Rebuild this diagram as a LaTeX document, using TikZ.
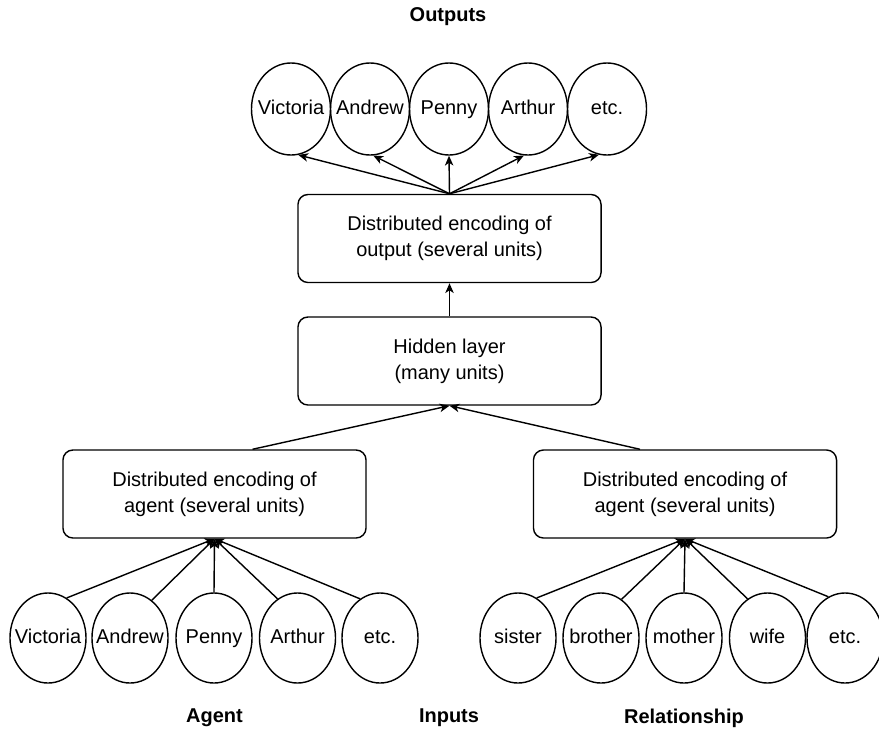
\documentclass[tikz,border=0pt]{standalone}
\usepackage{fontspec}
\setmainfont{Liberation Sans}
\usetikzlibrary{shapes.geometric,arrows.meta}

\begin{document}
\begin{tikzpicture}
    [x = .025cm, y = -.025cm, line width = 1pt,
     every node/.style = {font = \fontsize{14.2}{18.5}\selectfont, align = center},
     unit/.style = {ellipse, draw, inner xsep = -.2cm, inner ysep = 0pt,
                    text height = 10.5pt, text depth = 3pt,
                    minimum width = 1.9cm, minimum height = 2.25cm},
     outunit/.style = {unit, minimum width = 1.975cm, minimum height = 2.3cm},
     layer/.style = {draw, rounded corners = .25cm, minimum width = 7.575cm, minimum height = 2.2cm},
     title/.style = {font = \fontsize{14.2}{17}\selectfont\bfseries},
     arr/.style = {-{Stealth[length = 7pt, width = 6pt, inset = 2pt]}}]
    \useasboundingbox (0,0) rectangle (879,729);

    % outputs
    \node[title] (outputs) at (448,17) {Outputs};
    \node[outunit] (o1) at (291,109) {Victoria};
    \node[outunit] (o2) at (370,109) {Andrew};
    \node[outunit] (o3) at (449,109) {Penny};
    \node[outunit] (o4) at (528,109) {Arthur};
    \node[outunit] (o5) at (607,109) {etc.};

    \node[layer] (enc) at (449.5,238.5) {Distributed encoding of\\output (several units)};
    \node[layer] (hid) at (449.5,361) {Hidden layer\\ (many units)};
    \node[layer] (ag) at (214.5,494) {Distributed encoding of\\agent (several units)};
    \node[layer] (rel) at (685,494) {Distributed encoding of\\agent (several units)};

    % inputs
    \node[unit] (a1) at (48,638) {Victoria};
    \node[unit] (a2) at (130,638) {Andrew};
    \node[unit] (a3) at (214,638) {Penny};
    \node[unit] (a4) at (297.5,638) {Arthur};
    \node[unit] (a5) at (380,638) {etc.};
    \node[unit] (r1) at (518,638) {sister};
    \node[unit] (r2) at (601,638) {brother};
    \node[unit] (r3) at (684,638) {mother};
    \node[unit] (r4) at (767.5,638) {wife};
    \node[unit] (r5) at (845,638) {etc.};

    \node[title] (agent) at (214.5,718) {Agent};
    \node[title] (inputs) at (449,718) {Inputs};
    \node[title] (relation) at (684,718) {Relationship};

    \foreach \to/ \ang in {o1/-81,o2/-86,o3/-90,o4/-95,o5/-100}
      \draw[arr] (enc.north) -- (\to.\ang);
    \draw[arr] (hid.north) -- (enc.south);
    \draw[arr] ([xshift = .95cm]ag.north) -- (hid.south);
    \draw[arr] ([xshift = -1.125cm]rel.north) -- (hid.south);
    \foreach \from/ \ang in {a1/65,a2/60,a3/90,a4/117,a5/117}
      \draw[arr] (\from.\ang) -- (ag.south);
    \foreach \from/ \ang in {r1/65,r2/62,r3/90,r4/117,r5/112}
      \draw[arr] (\from.\ang) -- (rel.south);
  \end{tikzpicture}
\end{document}
